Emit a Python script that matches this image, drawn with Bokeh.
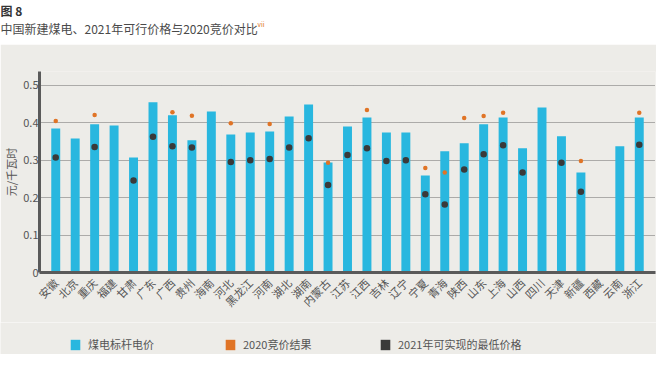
import numpy as np
from bokeh.plotting import figure
from bokeh.models import (ColumnDataSource, FactorRange, Range1d, FixedTicker,
                          Legend, LegendItem, Label)
from bokeh.layouts import column
from bokeh.embed import file_html
from bokeh.resources import INLINE

# ---------------- data ----------------
provinces = ["安徽", "北京", "重庆", "福建", "甘肃", "广东", "广西", "贵州", "海南", "河北",
             "黑龙江", "河南", "湖北", "湖南", "内蒙古", "江苏", "江西", "吉林", "辽宁", "宁夏",
             "青海", "陕西", "山东", "上海", "山西", "四川", "天津", "新疆", "西藏", "云南", "浙江"]
benchmark = [0.385, 0.358, 0.396, 0.393, 0.307, 0.455, 0.420, 0.353, 0.430, 0.369,
             0.374, 0.377, 0.417, 0.449, 0.294, 0.390, 0.414, 0.374, 0.374, 0.259,
             0.324, 0.345, 0.396, 0.414, 0.332, 0.441, 0.364, 0.267, None, 0.337, 0.414]
bid2020 = [0.405, None, 0.421, None, None, None, 0.428, 0.419, None, 0.399,
           None, 0.397, None, None, 0.293, None, 0.434, None, None, 0.279,
           0.267, 0.413, 0.418, 0.427, None, None, None, 0.298, None, None, 0.427]
min2021 = [0.307, None, 0.335, None, 0.246, 0.363, 0.337, 0.334, None, 0.295,
           0.300, 0.303, 0.334, 0.359, 0.234, 0.314, 0.332, 0.298, 0.300, 0.209,
           0.182, 0.275, 0.316, 0.340, 0.267, None, 0.293, 0.216, None, None, 0.341]
y_ticks = [0, 0.1, 0.2, 0.3, 0.4, 0.5]
y_tick_labels = ["0", "0.1", "0.2", "0.3", "0.4", "0.5"]
series_names = ["煤电标杆电价", "2020竞价结果", "2021年可实现的最低价格"]
title_text = "图 8"
subtitle_text = "中国新建煤电、2021年可行价格与2020竞价对比"
note_text = "vii"
y_label = "元/千瓦时"

# ---------------- style ----------------
FONT = "Noto Sans CJK SC"
BG = "#EDECE8"
BLUE = "#29B7DF"
ORANGE = "#E07426"
DARK = "#3A3A3A"
AXIS = "#5A5A5A"
TXT = "#555555"

W = 656
H_HEAD, H_MAIN, H_LEG = 44, 278, 32


def blank(width, height, bg, flip=True):
    f = figure(width=width, height=height, x_range=Range1d(0, width),
               y_range=Range1d(height, 0) if flip else Range1d(0, height),
               output_backend="svg", toolbar_location=None,
               x_axis_type=None, y_axis_type=None, min_border=0, frame_align=False,
               outline_line_color=None, background_fill_color=bg, border_fill_color=bg)
    f.grid.visible = False
    return f


src = ColumnDataSource(dict(
    prov=provinces,
    bench=np.array(benchmark, dtype=float),
    bid=np.array(bid2020, dtype=float),
    mn=np.array(min2021, dtype=float),
))

# ---------------- header ----------------
h = blank(W, H_HEAD, "white")
h.add_layout(Label(x=0, y=1, text=title_text, text_font=FONT, text_font_size="12px",
                   text_font_style="bold", text_color="#333333", text_baseline="top"))
h.add_layout(Label(x=0, y=19, text=subtitle_text, text_font=FONT, text_font_size="12px",
                   text_color="#4A4A4A", text_baseline="top"))
h.add_layout(Label(x=257, y=18, text=note_text, text_font=FONT, text_font_size="6.5px",
                   text_color=ORANGE, text_baseline="top"))

# ---------------- main chart ----------------
p = figure(width=W, height=H_MAIN,
           x_range=FactorRange(*provinces, range_padding=0.0216),
           y_range=Range1d(0, 0.537),
           output_backend="svg", toolbar_location=None, frame_align=False,
           background_fill_color=BG, border_fill_color=BG, outline_line_color=None,
           min_border_left=30, min_border_right=1, min_border_top=27, min_border_bottom=50)

p.vbar(x="prov", top="bench", width=0.46, source=src, fill_color=BLUE, line_color=None)
p.scatter(x="prov", y="bid", size=4.5, source=src, fill_color=ORANGE, line_color=None)
p.scatter(x="prov", y="mn", size=6.5, source=src, fill_color=DARK, line_color=None)

p.xgrid.visible = False
p.ygrid.grid_line_color = "#6A6A6A"
p.ygrid.grid_line_dash = "1 1"
p.ygrid.grid_line_width = 1

p.yaxis.ticker = FixedTicker(ticks=y_ticks)
p.yaxis.major_label_overrides = {t: l for t, l in zip(y_ticks, y_tick_labels)}
p.yaxis.axis_label = y_label
p.yaxis.axis_label_standoff = 1
p.yaxis.axis_label_text_font = FONT
p.yaxis.axis_label_text_font_size = "11px"
p.yaxis.axis_label_text_font_style = "normal"
p.yaxis.axis_label_text_color = TXT
p.yaxis.axis_label_text_line_height = 0.9

for ax in (p.xaxis[0], p.yaxis[0]):
    ax.axis_line_color = AXIS
    ax.axis_line_width = 3
    ax.major_tick_line_color = None
    ax.minor_tick_line_color = None
    ax.major_tick_out = 0
    ax.major_tick_in = 0
    ax.major_label_text_font = FONT
    ax.major_label_text_font_size = "11px"
    ax.major_label_text_color = TXT

p.yaxis.major_label_standoff = 1
p.xaxis.major_label_orientation = np.pi / 4
p.xaxis.major_label_standoff = 8

# ---------------- legend strip ----------------
lg = blank(W, H_LEG, BG, flip=False)
sw_bench = lg.vbar(x=[0], top=[0], width=1, fill_color=BLUE, line_color=None)
sw_bid = lg.vbar(x=[0], top=[0], width=1, fill_color=ORANGE, line_color=None)
sw_min = lg.vbar(x=[0], top=[0], width=1, fill_color=DARK, line_color=None)
legend = Legend(items=[LegendItem(label=series_names[0], renderers=[sw_bench]),
                       LegendItem(label=series_names[1], renderers=[sw_bid]),
                       LegendItem(label=series_names[2], renderers=[sw_min])],
                orientation="horizontal", location=(69, 2),
                glyph_width=12, glyph_height=13, label_standoff=7, spacing=0,
                label_width=136, padding=0, margin=0,
                border_line_color=None, background_fill_alpha=0,
                label_text_font=FONT, label_text_font_size="11px",
                label_text_color=TXT)
lg.add_layout(legend)

layout = column(h, p, lg, spacing=0)
open("out.html", "w").write(file_html(layout, INLINE))
